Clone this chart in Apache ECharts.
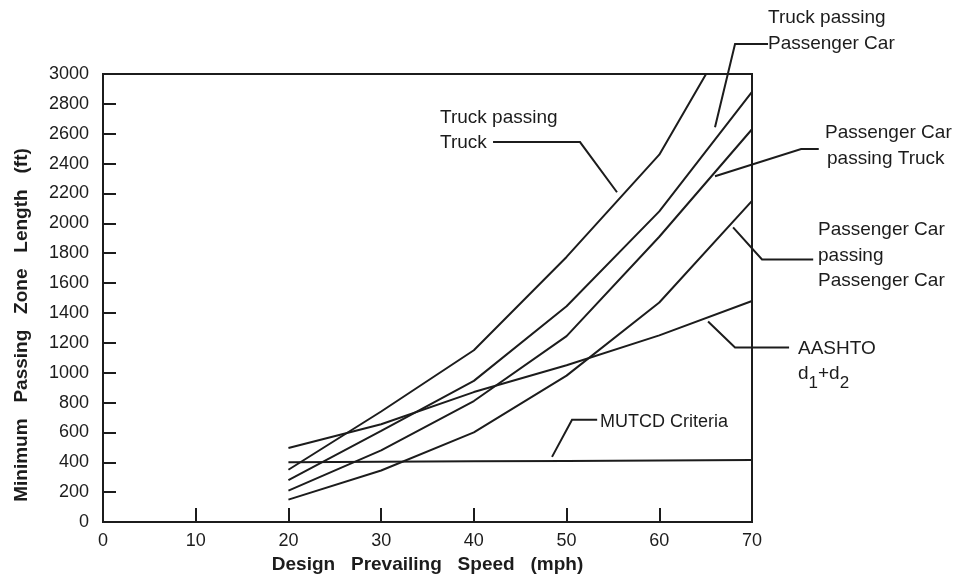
<!DOCTYPE html>
<html>
<head>
<meta charset="utf-8">
<script src="https://cdn.jsdelivr.net/npm/echarts@6/dist/echarts.min.js"></script>
<style>
html,body{margin:0;padding:0;background:#fff;}
#chart{width:958px;height:576px;}
</style>
</head>
<body>
<div id="chart"></div>
<script>
// ---- data ----
var speeds = [20, 30, 40, 50, 60, 70];
var truckPassingTruck = [350, 740, 1150, 1775, 2460, 3530];
var truckPassingCar = [280, 610, 945, 1445, 2080, 2880];
var carPassingTruck = [210, 480, 810, 1245, 1910, 2630];
var carPassingCar = [150, 345, 600, 980, 1470, 2150];
var aashto = [495, 655, 870, 1050, 1250, 1480];
var mutcd = [400, 403, 406, 409, 412, 415];
var xTicks = [0, 10, 20, 30, 40, 50, 60, 70];
var yTicks = [0, 200, 400, 600, 800, 1000, 1200, 1400, 1600, 1800, 2000, 2200, 2400, 2600, 2800, 3000];

function pairs(vals) {
  return speeds.map(function (s, i) { return [s, vals[i]]; });
}

var INK = '#1c1c1c';
var FONT = '"Liberation Sans", Arial, Helvetica, sans-serif';

var chart = echarts.init(document.getElementById('chart'), null, {renderer: 'canvas'});

function lineSeries(name, vals) {
  return {
    name: name,
    type: 'line',
    data: pairs(vals),
    symbol: 'none',
    clip: true,
    lineStyle: {color: INK, width: 2},
    itemStyle: {color: INK},
    z: 3,
    silent: true
  };
}

var option = {
  backgroundColor: '#ffffff',
  animation: false,
  grid: {
    left: 103, right: 206, top: 74, bottom: 54,
    containLabel: false, outerBoundsMode: 'none',
    show: true, borderColor: INK, borderWidth: 2, backgroundColor: 'transparent'
  },
  xAxis: {
    type: 'value',
    min: xTicks[0], max: xTicks[xTicks.length - 1], interval: 10,
    name: 'Design   Prevailing   Speed   (mph)',
    nameLocation: 'middle', nameGap: 32,
    nameTextStyle: {fontFamily: FONT, fontSize: 19, fontWeight: 'bold', color: INK},
    axisLine: {show: true, lineStyle: {color: INK, width: 2}},
    axisTick: {show: true, inside: true, length: 14, lineStyle: {color: INK, width: 2}},
    axisLabel: {fontFamily: FONT, fontSize: 18, color: INK, margin: 10,
      formatter: function (v) { return String(v); }},
    splitLine: {show: false}
  },
  yAxis: {
    type: 'value',
    min: yTicks[0], max: yTicks[yTicks.length - 1], interval: 200,
    axisLine: {show: true, lineStyle: {color: INK, width: 2}},
    axisTick: {show: true, inside: true, length: 13, lineStyle: {color: INK, width: 2}},
    axisLabel: {fontFamily: FONT, fontSize: 18, color: INK, margin: 14,
      formatter: function (v) { return String(v); }},
    splitLine: {show: false}
  },
  series: [
    lineSeries('Truck passing Truck', truckPassingTruck),
    lineSeries('Truck passing Passenger Car', truckPassingCar),
    lineSeries('Passenger Car passing Truck', carPassingTruck),
    lineSeries('Passenger Car passing Passenger Car', carPassingCar),
    lineSeries('AASHTO d1+d2', aashto),
    lineSeries('MUTCD Criteria', mutcd)
  ]
};
chart.setOption(option);

// ---- annotations: leader lines anchored in data coordinates ----
var leaders = [
  [[42.07, 2544], [51.45, 2544], [55.44, 2208]],
  [[71.73, 3201], [68.17, 3201], [66.01, 2644]],
  [[66.01, 2315], [75.3, 2497], [77.2, 2497]],
  [[67.96, 1973], [71.08, 1758], [76.6, 1758]],
  [[65.26, 1342], [68.17, 1168], [74.0, 1168]],
  [[48.43, 436], [50.59, 685], [53.3, 685]]
];

function toPx(p) { return chart.convertToPixel({gridIndex: 0}, p); }

var graphics = leaders.map(function (pts) {
  return {
    type: 'polyline',
    shape: {points: pts.map(toPx)},
    style: {stroke: INK, lineWidth: 2, fill: null},
    silent: true, z: 10
  };
});

function label(txt, x, y, size) {
  return {
    type: 'text', x: x, y: y, silent: true, z: 10,
    style: {
      text: txt, fill: INK, font: (size || 19) + 'px ' + FONT,
      textAlign: 'left', textVerticalAlign: 'middle', verticalAlign: 'middle'
    }
  };
}

graphics.push(label('Truck passing', 440, 118));
graphics.push(label('Truck', 440, 143));
graphics.push(label('Truck passing', 768, 18));
graphics.push(label('Passenger Car', 768, 44));
graphics.push(label('Passenger Car', 825, 133));
graphics.push(label('passing Truck', 827, 159));
graphics.push(label('Passenger Car', 818, 230));
graphics.push(label('passing', 818, 256));
graphics.push(label('Passenger Car', 818, 281));
graphics.push(label('AASHTO', 798, 349));
graphics.push(label('MUTCD Criteria', 600, 422, 18));
graphics.push({
  type: 'text', x: 798, y: 378, silent: true, z: 10,
  style: {
    text: '{d|d}{s|1}{d|+}{d|d}{s|2}',
    fill: INK, font: '19px ' + FONT, textAlign: 'left', verticalAlign: 'middle',
    rich: {
      d: {fontSize: 19, fontFamily: FONT, fill: INK, verticalAlign: 'top', padding: [0, 0, 0, 0]},
      s: {fontSize: 17, fontFamily: FONT, fill: INK, padding: [10, 0, 0, 0]}
    }
  }
});

// y-axis title (rotated, bold)
graphics.push({
  type: 'text', x: 22, y: 325, rotation: Math.PI / 2, silent: true, z: 10,
  style: {
    text: 'Minimum   Passing   Zone   Length   (ft)',
    fill: INK, font: 'bold 19px ' + FONT,
    textAlign: 'center', textVerticalAlign: 'middle', verticalAlign: 'middle'
  }
});

chart.setOption({graphic: graphics});
</script>
</body>
</html>
